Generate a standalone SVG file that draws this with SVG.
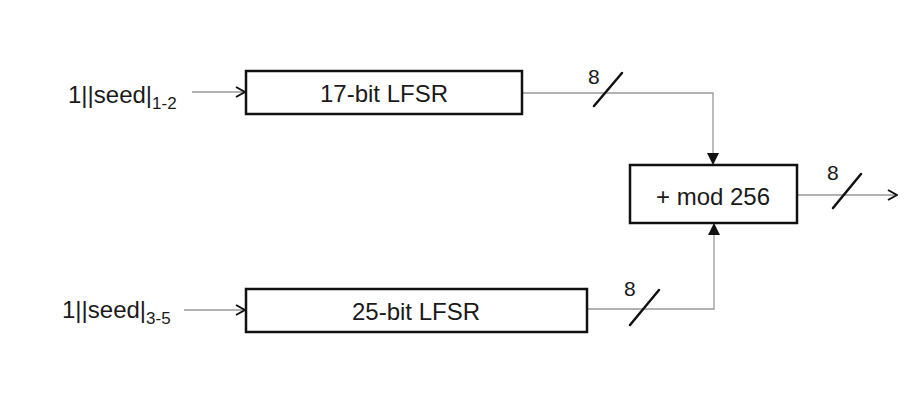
<svg xmlns="http://www.w3.org/2000/svg" width="907" height="406" viewBox="0 0 907 406">
<style>
.box{fill:#fff;stroke:#111;stroke-width:2.5}
.t{font-family:"Liberation Sans",Arial,sans-serif;fill:#1a1a1a}
.c{fill:none;stroke:#999;stroke-width:1.3}
.s{stroke:#111;stroke-width:2.5;stroke-linecap:round}
</style>
<defs>
<marker id="open" viewBox="0 0 12 12" refX="11" refY="6" markerWidth="12" markerHeight="12" markerUnits="userSpaceOnUse" orient="auto">
<path d="M2,1 L11,6 L2,11" fill="none" stroke="#111" stroke-width="2"/>
</marker>
<marker id="tri" viewBox="0 0 12 12" refX="12" refY="6" markerWidth="12" markerHeight="12" markerUnits="userSpaceOnUse" orient="auto">
<path d="M0,0 L12,6 L0,12 Z" fill="#111"/>
</marker>
</defs>
<rect width="907" height="406" fill="#fff"/>
<g id="connectors">
<line class="c" x1="192" y1="92" x2="245" y2="92" marker-end="url(#open)"/>
<line class="c" x1="184" y1="310" x2="245" y2="310" marker-end="url(#open)"/>
<polyline class="c" points="522,93 713,93 713,165" marker-end="url(#tri)"/>
<polyline class="c" points="587,309 714,309 714,223" marker-end="url(#tri)"/>
<line class="c" x1="797" y1="195" x2="897" y2="195" marker-end="url(#open)"/>
<line class="s" x1="594" y1="106" x2="622" y2="73"/>
<line class="s" x1="630" y1="325" x2="659" y2="290"/>
<line class="s" x1="833" y1="208" x2="861" y2="174"/>
<text class="t" x="588" y="84" font-size="21">8</text>
<text class="t" x="624" y="296" font-size="21">8</text>
<text class="t" x="827" y="180" font-size="21">8</text>
</g>
<g id="in1">
<text class="t" x="68" y="103" font-size="24">1||seed|<tspan font-size="17" dy="6">1-2</tspan></text>
</g>
<g id="in2">
<text class="t" x="62" y="318" font-size="24">1||seed|<tspan font-size="17" dy="6">3-5</tspan></text>
</g>
<g id="lfsr17">
<rect class="box" x="246" y="71" width="276" height="43"/>
<text class="t" x="384" y="102" font-size="24" text-anchor="middle">17-bit LFSR</text>
</g>
<g id="lfsr25">
<rect class="box" x="246" y="289" width="341" height="43"/>
<text class="t" x="416" y="320" font-size="24" text-anchor="middle">25-bit LFSR</text>
</g>
<g id="mod">
<rect class="box" x="630" y="165" width="167" height="58"/>
<text class="t" x="713" y="205" font-size="24" text-anchor="middle">+ mod 256</text>
</g>
</svg>
